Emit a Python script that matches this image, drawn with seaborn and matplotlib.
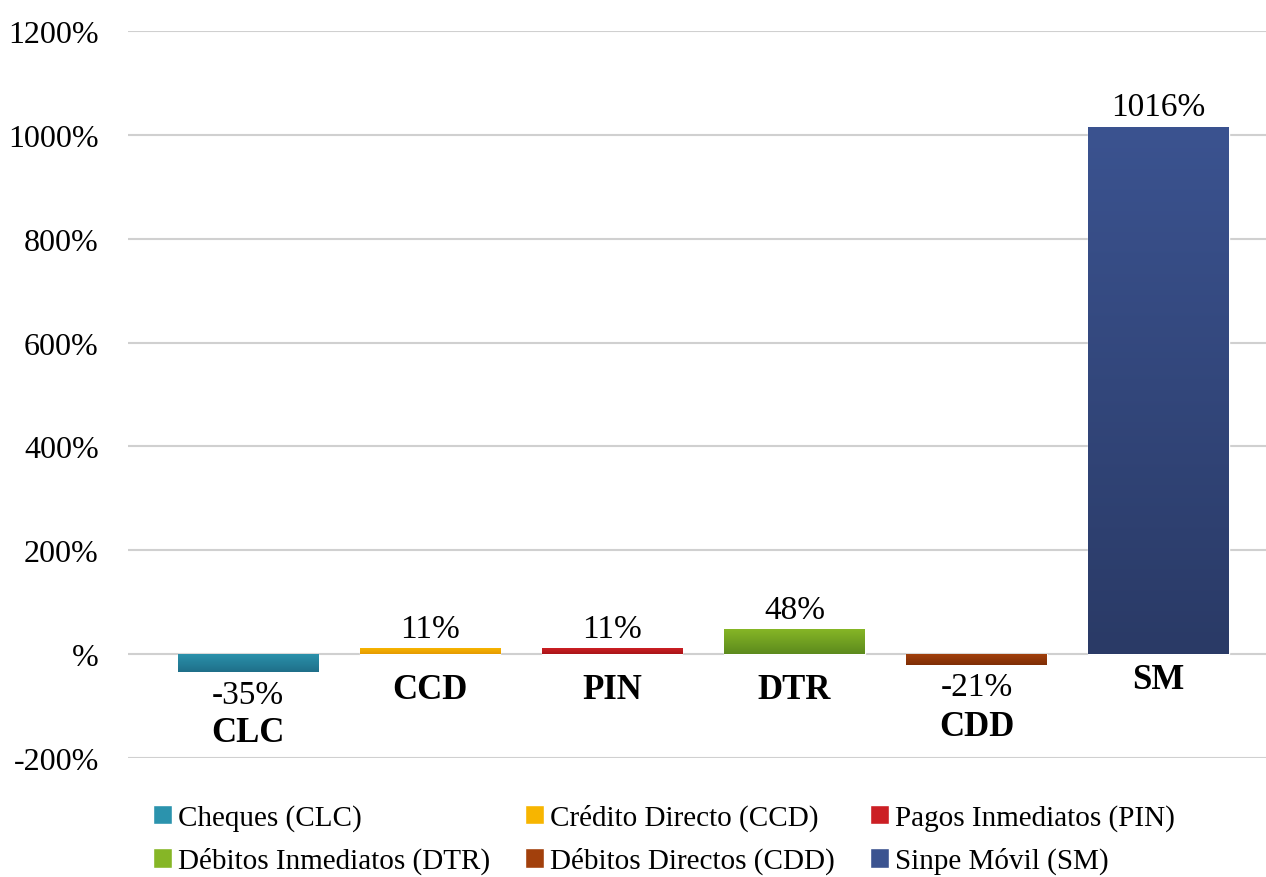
import numpy as np
import matplotlib
matplotlib.use('Agg')
import matplotlib.pyplot as plt
import matplotlib.colors as mcolors
from matplotlib.patches import Patch
import seaborn as sns

# data
cats = ['CLC', 'CCD', 'PIN', 'DTR', 'CDD', 'SM']
values = [-35, 11, 11, 48, -21, 1016]
names = ['Cheques (CLC)', 'Crédito Directo (CCD)', 'Pagos Inmediatos (PIN)',
         'Débitos Inmediatos (DTR)', 'Débitos Directos (CDD)', 'Sinpe Móvil (SM)']
yticks = [-200, 0, 200, 400, 600, 800, 1000, 1200]
ytick_labels = ['-200%', '%', '200%', '400%', '600%', '800%', '1000%', '1200%']

# gradient colours (top, bottom) per bar
top_cols = ['#2b93ad', '#f7b500', '#cc1f24', '#86b626', '#a2400c', '#3b5390']
bot_cols = ['#1f6f89', '#e59a00', '#a81418', '#5c8a1d', '#7e2e06', '#2a3a66']

# category label distance below bar/axis, in pixels
cat_off_px = [60, 35, 35, 35, 61, 25]

sns.set_style('white')
plt.rcParams['font.family'] = ['Liberation Serif', 'DejaVu Serif']
plt.rcParams['text.color'] = 'black'
plt.rcParams['ytick.color'] = 'black'

W, H = 1266, 878
fig = plt.figure(figsize=(W / 100, H / 100), dpi=100)
ax = fig.add_axes([128 / W, 1 - 759 / H, 1 - 128 / W, (759 - 32) / H])

sns.barplot(x=cats, y=values, hue=cats, palette=top_cols, width=0.77,
            saturation=1, legend=False, ax=ax, zorder=3)

# vertical gradient fill clipped to each bar
grad = np.linspace(0, 1, 256).reshape(-1, 1)
bars = sorted(ax.patches, key=lambda p: p.get_x())
for p, c1, c2 in zip(bars, top_cols, bot_cols):
    x0, w = p.get_x(), p.get_width()
    y0, h = p.get_y(), p.get_height()
    lo, hi = min(y0, y0 + h), max(y0, y0 + h)
    cmap = mcolors.LinearSegmentedColormap.from_list('g', [c1, c2])
    im = ax.imshow(grad, cmap=cmap, aspect='auto', extent=[x0, x0 + w, lo, hi],
                   zorder=4, interpolation='bilinear')
    im.set_clip_path(p)

ax.set_xlim(-0.66, 5.59)
ax.set_ylim(-200, 1200)
ax.set_xticks([])
ax.set_yticks(yticks, ytick_labels)
ax.tick_params(axis='y', length=0, pad=21, labelsize=23, labelcolor='black')
ax.set_xlabel('')
ax.set_ylabel('')
ax.yaxis.grid(True, color='#d0d0d0', linewidth=1.5)
ax.set_axisbelow(True)
sns.despine(ax=ax, left=True, bottom=True)

# value labels and category labels
for i, v in enumerate(values):
    if v >= 0:
        ax.annotate(f'{v}%', (i, v), xytext=(0, 3), textcoords='offset points',
                    ha='center', va='bottom', fontsize=24)
    else:
        ax.annotate(f'{v}%', (i, v), xytext=(0, -5), textcoords='offset points',
                    ha='center', va='top', fontsize=24)
    ax.annotate(cats[i], (i, min(v, 0)), xytext=(0, -cat_off_px[i] * 0.72),
                textcoords='offset points', ha='center', va='center',
                fontsize=25, fontweight='bold')

# legend: 3 columns, filled row by row
order = [0, 3, 1, 4, 2, 5]
handles = [Patch(facecolor=top_cols[k]) for k in order]
labels = [names[k] for k in order]
fig.legend(handles, labels, loc='center', bbox_to_anchor=(664 / W, 1 - 840 / H),
           ncol=3, frameon=False, fontsize=21, handlelength=0.65, handleheight=0.65,
           handletextpad=0.2, columnspacing=1.2, labelspacing=0.55)

fig.savefig('out.png', dpi=100)
